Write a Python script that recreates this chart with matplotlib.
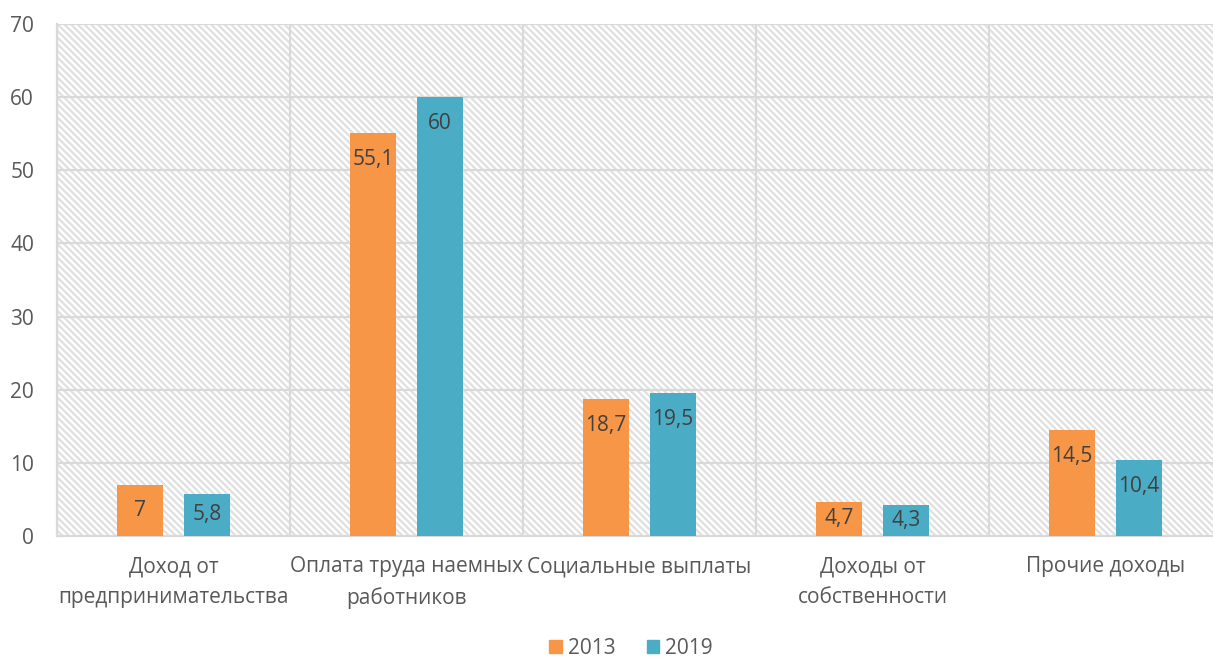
import numpy as np
import matplotlib.pyplot as plt
from matplotlib.patches import Patch

categories = ['Доход от\nпредпринимательства', 'Оплата труда наемных\nработников',
              'Социальные выплаты', 'Доходы от\nсобственности', 'Прочие доходы']
v2013 = [7, 55.1, 18.7, 4.7, 14.5]
v2019 = [5.8, 60, 19.5, 4.3, 10.4]
labels2013 = ['7', '55,1', '18,7', '4,7', '14,5']
labels2019 = ['5,8', '60', '19,5', '4,3', '10,4']

c2013 = '#F79646'
c2019 = '#4BACC6'
grid_c = '#d9d9d9'
text_c = '#595959'

plt.rcParams['font.family'] = ['Open Sans', 'DejaVu Sans']
plt.rcParams['hatch.linewidth'] = 1.6
plt.rcParams['hatch.color'] = '#e0e0e0'

fig = plt.figure(figsize=(12.13, 6.57), dpi=100)
ax = fig.add_axes([57 / 1213, 1 - 536 / 657, 1165 / 1213, 512 / 657])

ax.patch.set_facecolor('white')
ax.patch.set_hatch('\\' * 5)
ax.patch.set_edgecolor('#e0e0e0')
ax.patch.set_linewidth(0)

x = np.arange(len(categories))
w = 0.197
off = 0.143
ax.bar(x - off, v2013, w, color=c2013, zorder=3)
ax.bar(x + off, v2019, w, color=c2019, zorder=3)

def lab_y(v):
    return max(v - 3.6, v / 2)

for i in range(len(x)):
    ax.text(x[i] - off, lab_y(v2013[i]), labels2013[i], ha='center', va='center',
            fontsize=15, color='#404040', zorder=4)
    ax.text(x[i] + off, lab_y(v2019[i]), labels2019[i], ha='center', va='center',
            fontsize=15, color='#404040', zorder=4)

ax.set_xlim(-0.5, 4.5)
ax.set_ylim(0, 70)
ax.set_yticks(np.arange(0, 71, 10))
ax.set_xticks(x)
ax.set_xticklabels(categories, fontsize=15, color=text_c, linespacing=1.6)
ax.tick_params(axis='y', length=0, pad=16.5, labelsize=15, labelcolor=text_c)
ax.tick_params(axis='x', length=0, pad=14.5)

for yv in np.arange(10, 71, 10):
    ax.axhline(yv, color=grid_c, lw=1.6, zorder=1)
for xv in np.arange(-0.5, 4.6, 1):
    ax.axvline(xv, color=grid_c, lw=1.6, zorder=1)

for s in ['top', 'right']:
    ax.spines[s].set_visible(False)
ax.spines['left'].set_color(grid_c)
ax.spines['left'].set_linewidth(1.6)
ax.spines['bottom'].set_color(grid_c)
ax.spines['bottom'].set_linewidth(1.6)

handles = [Patch(color=c2013, label='2013'), Patch(color=c2019, label='2019')]
fig.legend(handles=handles, loc='center', bbox_to_anchor=(631 / 1213, 1 - 648 / 657),
           ncol=2, frameon=False, fontsize=15, labelcolor=text_c,
           handlelength=0.6, handleheight=0.6, handletextpad=0.3, columnspacing=1.5)

plt.savefig('out.png', dpi=100)
